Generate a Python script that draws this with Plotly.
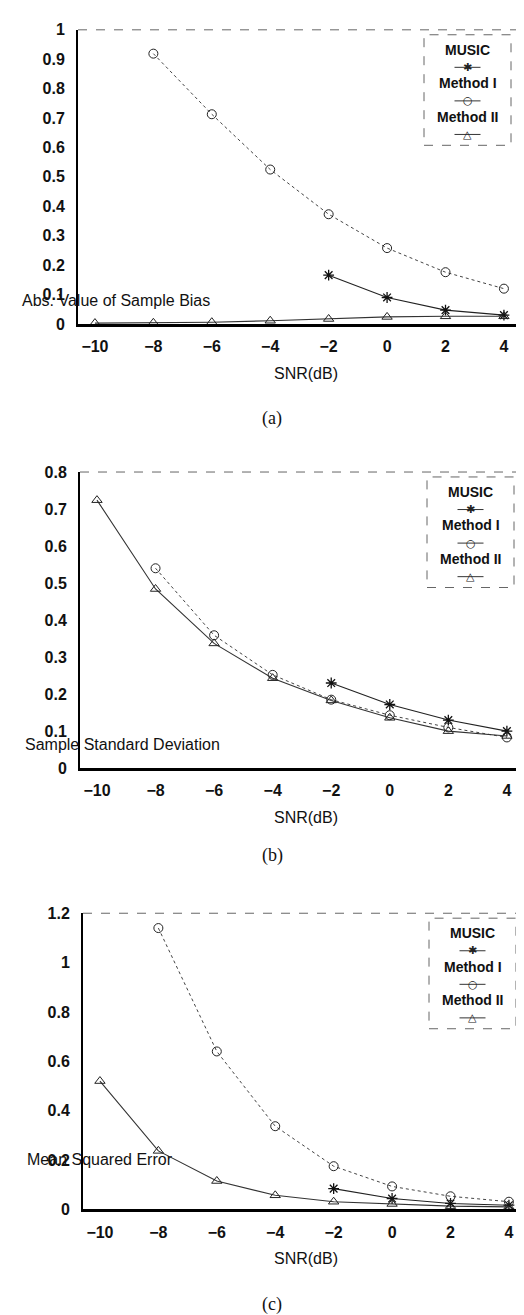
import plotly.graph_objects as go

W, H = 524, 1315

snr = [-10, -8, -6, -4, -2, 0, 2, 4]

# (a) Abs. value of sample bias
bias_music = [None, None, None, None, 0.166, 0.090, 0.047, 0.030]
bias_m1 = [None, 0.919, 0.713, 0.525, 0.373, 0.258, 0.176, 0.120]
bias_m2 = [0.003, 0.004, 0.006, 0.011, 0.017, 0.024, 0.026, 0.026]

# (b) Sample standard deviation
std_music = [None, None, None, None, 0.230, 0.172, 0.130, 0.100]
std_m1 = [None, 0.540, 0.359, 0.252, 0.185, 0.143, 0.110, 0.083]
std_m2 = [0.724, 0.484, 0.337, 0.243, 0.183, 0.136, 0.100, 0.087]

# (c) Mean squared error
mse_music = [None, None, None, None, 0.084, 0.044, 0.024, 0.017]
mse_m1 = [None, 1.140, 0.640, 0.337, 0.175, 0.093, 0.053, 0.031]
mse_m2 = [0.520, 0.237, 0.115, 0.057, 0.031, 0.022, 0.013, 0.010]

series_names = ["MUSIC", "Method I", "Method II"]
panel_titles = ["Abs. Value of Sample Bias", "Sample Standard Deviation", "Mean Squared Error"]
captions = ["(a)", "(b)", "(c)"]
y_ranges = [[0, 1.0], [0, 0.8], [0, 1.2]]
y_dticks = [0.1, 0.1, 0.2]

# layout geometry in pixels: (left, right, top, bottom)
boxes = [(70, 512, 14, 312), (72, 515, 462, 762), (75, 517, 909, 1209)]
title_pos = [(12, 288), (15, 738), (17, 1158)]
caption_y = [408, 850, 1305]

def px(x):
    return x / W

def py(y):
    return 1 - y / H

marker_styles = [
    dict(symbol="asterisk-open", size=9, color="#111", line=dict(width=1.3)),
    dict(symbol="circle-open", size=9, color="#222", line=dict(width=1)),
    dict(symbol="triangle-up-open", size=9, color="#222", line=dict(width=1)),
]
line_styles = [
    dict(color="#222", width=1.1, dash="solid"),
    dict(color="#444", width=1.0, dash="dot"),
    dict(color="#333", width=1.1, dash="solid"),
]
key_chars = ["✱", "○", "△"]

data = [
    [bias_music, bias_m1, bias_m2],
    [std_music, std_m1, std_m2],
    [mse_music, mse_m1, mse_m2],
]

fig = go.Figure()
annotations = []
shapes = []
layout = {}

tick_font = dict(family="Liberation Sans", size=16, color="#111", weight="bold")
text_font = dict(family="Liberation Sans", size=16, color="#111")

for i in range(3):
    n = "" if i == 0 else str(i + 1)
    xa, ya = "x" + n, "y" + n
    l, r, t, b = boxes[i]
    for k in range(3):
        fig.add_trace(go.Scatter(
            x=snr, y=data[i][k], mode="lines+markers", name=series_names[k],
            xaxis=xa, yaxis=ya, showlegend=False, connectgaps=False,
            line=line_styles[k], marker=marker_styles[k],
        ))
    layout["xaxis" + n] = dict(
        domain=[px(l), px(r)], range=[-10.58, 4.55], anchor=ya,
        tickvals=snr, ticks="", showgrid=False, zeroline=False,
        showline=True, linecolor="#000", linewidth=3,
        tickfont=tick_font, ticklabelstandoff=6,
    )
    layout["yaxis" + n] = dict(
        domain=[py(b), py(t)], range=y_ranges[i], anchor=xa,
        dtick=y_dticks[i], tick0=0, ticks="", showgrid=False, zeroline=False,
        showline=True, linecolor="#000", linewidth=2,
        tickfont=tick_font, ticklabelstandoff=8,
    )
    # faint top and right frame
    shapes.append(dict(type="line", xref="paper", yref="paper",
                       x0=px(l), x1=px(r), y0=py(t), y1=py(t),
                       line=dict(color="#666", width=1, dash="dash")))
    shapes.append(dict(type="line", xref="paper", yref="paper",
                       x0=px(r), x1=px(r), y0=py(t), y1=py(b - 120),
                       line=dict(color="#aaa", width=1, dash="dot")))
    # y title, horizontal, overlapping tick labels (as in the original)
    tx, ty = title_pos[i]
    annotations.append(dict(text=panel_titles[i], xref="paper", yref="paper",
                            x=px(tx), y=py(ty), xanchor="left", yanchor="middle",
                            showarrow=False, font=text_font))
    # x title
    annotations.append(dict(text="SNR(dB)", xref="paper", yref="paper",
                            x=px(298), y=py(b + 50), xanchor="center", yanchor="middle",
                            showarrow=False, font=dict(family="Liberation Sans", size=16, color="#111")))
    # caption
    annotations.append(dict(text=captions[i], xref="paper", yref="paper",
                            x=px(264), y=py(caption_y[i]), xanchor="center", yanchor="middle",
                            showarrow=False, font=dict(family="Liberation Serif", size=18, color="#111")))
    # custom legend box
    lx0, lx1 = r - 96, r - 9
    ly0, ly1 = t + 5, t + 117
    shapes.append(dict(type="rect", xref="paper", yref="paper",
                       x0=px(lx0), x1=px(lx1), y0=py(ly1), y1=py(ly0),
                       line=dict(color="#666", width=1, dash="dash")))
    cx = (lx0 + lx1) / 2
    for k in range(3):
        annotations.append(dict(text=series_names[k], xref="paper", yref="paper",
                                x=px(cx), y=py(t + 20 + 34 * k), xanchor="center", yanchor="middle",
                                showarrow=False,
                                font=dict(family="Liberation Sans", size=14, color="#111", weight="bold")))
        ky = t + 38 + 34 * k
        shapes.append(dict(type="line", xref="paper", yref="paper",
                           x0=px(cx - 13), x1=px(cx + 13), y0=py(ky), y1=py(ky),
                           line=dict(color="#333", width=1)))
        annotations.append(dict(text=key_chars[k], xref="paper", yref="paper",
                                x=px(cx), y=py(ky), xanchor="center", yanchor="middle",
                                showarrow=False, bgcolor="rgba(0,0,0,0)",
                                font=dict(family="DejaVu Sans", size=11, color="#222")))

fig.update_layout(
    width=W, height=H, margin=dict(l=0, r=0, t=0, b=0),
    paper_bgcolor="white", plot_bgcolor="white",
    annotations=annotations, shapes=shapes, **layout,
)

fig.write_html("out.html")
